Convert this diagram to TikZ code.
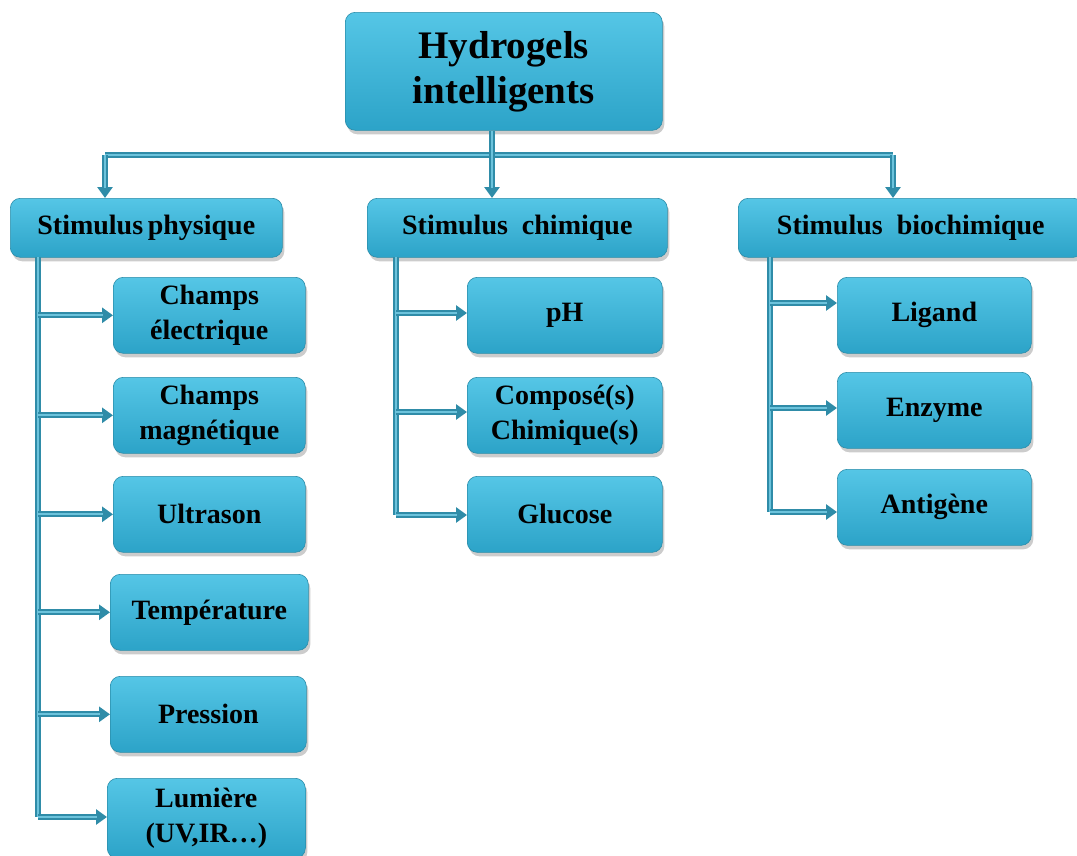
\documentclass[tikz,border=0pt]{standalone}
\usepackage{fontspec}
\setmainfont{Liberation Serif}
\usetikzlibrary{arrows.meta,shadows,calc}
\definecolor{boxtop}{HTML}{55C6E6}
\definecolor{boxbot}{HTML}{2CA3C8}
\definecolor{boxline}{HTML}{2A8CA8}
\definecolor{connc}{HTML}{2F8CA8}
\definecolor{connl}{HTML}{6CC3DC}
\begin{document}
\begin{tikzpicture}[x=1pt,y=-1pt,
  box/.style={rounded corners=10pt, top color=boxtop, bottom color=boxbot, draw=boxline, line width=0.6pt,
    drop shadow={shadow xshift=2pt,shadow yshift=-4pt,opacity=0.4},
    align=center, font=\bfseries\fontsize{28}{35}\selectfont, inner sep=0pt, anchor=north west},
  conn/.style={draw=connc, line width=6pt, -{Triangle[length=11pt,width=15pt]},
    postaction={draw=connl, line width=2.2pt, -, shorten >=10pt}},
  bar/.style={draw=connc, line width=6pt, postaction={draw=connl, line width=2.2pt}},
]
\useasboundingbox (0,0) rectangle (1077,855);
\fill[white] (0,0) rectangle (1077,855);

% top
\node[box, minimum width=317pt, minimum height=118pt, font=\bfseries\fontsize{39}{45}\selectfont] (top) at (345,12) {Hydrogels\\intelligents};

% level 2
\node[box, minimum width=272pt, minimum height=59pt] (phys) at (10,198) {Stimulus\,physique};
\node[box, minimum width=300pt, minimum height=59pt] (chim) at (367,198) {Stimulus\ \ chimique};
\node[box, minimum width=345pt, minimum height=59pt] (bio) at (738,198) {Stimulus\ \ biochimique};

% physique children
\node[box, minimum width=192pt, minimum height=76pt] (ce) at (113,277) {Champs\\électrique};
\node[box, minimum width=192pt, minimum height=76pt] (cm) at (113,377) {Champs\\magnétique};
\node[box, minimum width=192pt, minimum height=76pt] (us) at (113,476) {Ultrason};
\node[box, minimum width=198pt, minimum height=76pt] (tp) at (110,574) {Température};
\node[box, minimum width=196pt, minimum height=76pt] (pr) at (110,676) {Pression};
\node[box, minimum width=198pt, minimum height=80pt] (lu) at (107,778) {Lumière\\(UV,IR\ldots)};

% chimique children
\node[box, minimum width=195pt, minimum height=76pt] (ph) at (467,277) {pH};
\node[box, minimum width=195pt, minimum height=76pt] (cc) at (467,377) {Composé(s)\\Chimique(s)};
\node[box, minimum width=195pt, minimum height=76pt] (gl) at (467,476) {Glucose};

% biochimique children
\node[box, minimum width=194pt, minimum height=76pt] (li) at (837,277) {Ligand};
\node[box, minimum width=194pt, minimum height=76pt] (en) at (837,372) {Enzyme};
\node[box, minimum width=194pt, minimum height=76pt] (an) at (837,469) {Antigène};

% top connectors
\coordinate (hl) at (105,155);
\coordinate (hr) at (893,155);
\draw[bar] (hl) -- (hr);
\draw[conn] (hl) -- (hl |- phys.north);
\draw[conn] (hr) -- (hr |- bio.north);
\draw[conn] (top.south -| 492,0) -- (492,0 |- chim.north);

% left column
\coordinate (pv) at (38,257);
\coordinate (pe) at (38,817);
\draw[bar] (pv) -- (pe);
\foreach \n in {ce,cm,us,tp,pr} \draw[conn] (pv |- \n.west) -- (\n.west);
\draw[conn] (pe) -- (lu.west |- pe);

% middle column
\coordinate (cv) at (396,257);
\coordinate (cvb) at (396,515);
\draw[bar] (cv) -- (cvb);
\draw[conn] (cv |- 0,313) -- (ph.west |- 0,313);
\draw[conn] (cv |- 0,412) -- (cc.west |- 0,412);
\draw[conn] (cvb) -- (gl.west |- cvb);

% right column
\coordinate (bv) at (770,257);
\coordinate (bvb) at (770,512);
\draw[bar] (bv) -- (bvb);
\draw[conn] (bv |- 0,303) -- (li.west |- 0,303);
\draw[conn] (bv |- 0,408) -- (en.west |- 0,408);
\draw[conn] (bvb) -- (an.west |- bvb);
\end{tikzpicture}
\end{document}
